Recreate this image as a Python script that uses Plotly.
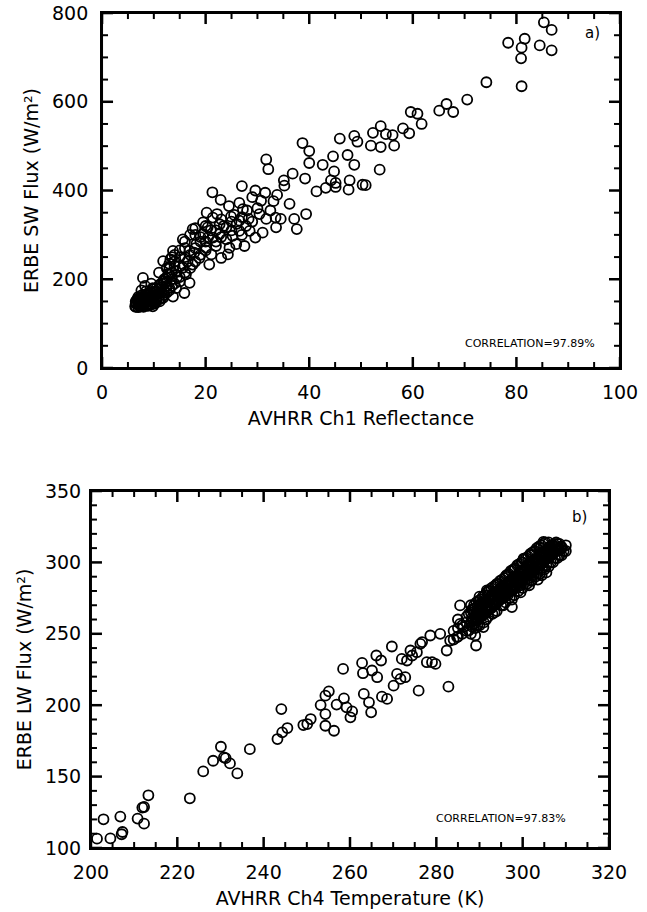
import plotly.graph_objects as go

# ---------------- Panel a) : SW flux vs Ch1 reflectance ----------------
sw_reflectance = [
    85.3, 86.8, 78.4, 81.6, 81.0, 84.5, 86.8, 80.9, 81.0, 74.2,
    70.5, 66.5, 65.1, 67.8, 59.6, 60.9, 61.7, 58.1, 59.3, 53.8,
    52.3, 54.8, 56.1, 56.4, 53.8, 51.9, 48.7, 49.3, 45.9, 53.6,
    40.0, 40.0, 42.6, 44.6, 47.4, 48.7, 44.8, 44.2, 45.1, 45.1,
    47.8, 47.6, 50.3, 50.9, 43.2, 41.4, 39.2, 39.4, 38.7, 31.7,
    32.1, 27.0, 29.6, 21.3, 22.9, 26.5, 30.7, 33.1, 35.1, 36.8,
    35.2, 36.2, 37.1, 37.6,
    22.2, 24.9, 27.2, 28.3, 30.4, 31.7, 33.5, 34.5, 33.6, 31.0,
    29.6, 27.5, 17.5, 15.6, 19.5, 20.4, 22.7, 24.3, 23.0, 20.7,
    13.7, 11.8, 7.9, 15.9, 13.7, 16.9, 19.5, 21.4, 24.0, 25.2,
    26.5, 25.9, 24.6, 22.0, 20.1, 18.2, 16.9, 18.8, 21.1, 17.5,
    15.6, 14.3, 16.2, 13.0, 12.4, 15.0, 11.1, 9.8, 13.0, 10.5,
    8.5, 7.3, 9.2, 11.1, 6.6, 7.9, 6.4, 9.8, 11.8, 14.3,
    26.5, 24.0, 28.5, 21.4, 22.7,
    7.0, 7.5, 8.0, 8.5, 9.0, 9.5, 10.0, 8.2, 7.8, 9.3,
    10.5, 11.0, 6.8, 7.2, 8.8, 10.2, 11.5, 12.0, 12.5, 9.0,
    10.0, 11.8, 13.5, 14.5, 12.8, 14.0, 16.5, 15.0, 17.8, 19.0,
    20.5, 18.0, 23.5, 21.0, 25.5, 28.0, 26.0, 27.8, 29.0, 30.0,
    32.5, 33.8, 31.5, 29.0, 24.5, 20.2, 16.0, 13.2, 11.0, 9.5,
    8.3, 7.6,
]
sw_flux = [
    779, 762, 733, 742, 722, 727, 716, 698, 635, 644,
    605, 595, 580, 577, 577, 573, 550, 540, 529, 545,
    530, 527, 525, 501, 498, 501, 523, 510, 517, 447,
    489, 462, 458, 477, 480, 458, 443, 423, 417, 408,
    423, 402, 413, 412, 406, 398, 427, 347, 507, 470,
    448, 410, 400, 396, 379, 372, 377, 376, 423, 438,
    411, 370, 336, 313,
    347, 341, 358, 336, 347, 336, 339, 336, 317, 305,
    294, 275, 313, 290, 328, 317, 302, 256, 248, 233,
    264, 241, 203, 169, 161, 192, 302, 294, 290, 298,
    309, 279, 271, 275, 271, 279, 264, 248, 256, 233,
    226, 218, 211, 226, 203, 195, 188, 180, 180, 165,
    173, 158, 154, 150, 146, 142, 139, 139, 158, 180,
    332, 317, 309, 339, 324,
    150, 145, 148, 152, 145, 150, 155, 160, 165, 162,
    158, 162, 155, 140, 140, 145, 170, 175, 185, 170,
    172, 195, 200, 205, 212, 230, 240, 250, 260, 285,
    295, 300, 320, 310, 345, 355, 325, 320, 330, 360,
    355, 390, 395, 385, 365, 350, 270, 245, 215, 190,
    185, 175,
]
# dense low-reflectance cluster: (reflectance, [fluxes at that reflectance])
sw_cluster_rows = [
    (6.5, [138, 145, 150]), (7.0, [137, 143, 155, 160]),
    (7.5, [140, 150, 158]), (8.0, [138, 144, 153, 162]),
    (8.5, [142, 148, 158, 166]), (9.0, [141, 150, 158]),
    (9.5, [143, 155, 162, 170]), (10.0, [146, 150, 162, 178]),
    (10.5, [150, 170, 180]), (11.0, [155, 168, 178]),
    (11.5, [158, 182, 190]), (12.0, [165, 190, 200]),
    (12.5, [170, 195, 225]), (13.0, [175, 210, 235]),
    (13.5, [185, 215, 250]), (14.0, [190, 240, 255]),
    (15.0, [205, 230, 265]), (16.0, [215, 250, 285]),
    (17.0, [225, 255, 300]), (18.0, [240, 270, 315]),
    (19.0, [255, 295]), (20.0, [265, 285, 320]),
    (22.0, [285, 310]), (23.0, [295, 335]),
    (25.0, [310, 330]), (27.0, [300, 340]),
]

# ---------------- Panel b) : LW flux vs Ch4 temperature ----------------
lw_temperature = [
    201.4, 202.9, 204.5, 206.8, 207.3, 207.1, 210.8, 212.3, 211.9, 212.3,
    213.3, 222.9, 226.0, 228.3, 230.1, 230.8, 231.2, 232.2, 233.9, 236.8,
    243.2, 244.1, 244.3, 245.5, 249.2, 250.1, 250.9, 253.2, 254.3, 255.1,
    254.3, 254.3, 256.3, 256.9, 258.6, 258.4, 259.2, 260.1, 260.5, 262.8,
    263.0, 263.2, 264.4, 265.1, 266.3, 267.2, 266.1, 269.7, 270.1, 270.9,
    271.7, 272.8, 264.9, 267.4, 268.6, 272.0, 273.2, 274.0, 274.4, 275.5,
    276.3, 276.7, 277.8, 279.0, 279.8, 275.9, 282.8, 278.6, 280.9, 282.4,
    283.2, 284.8, 285.5, 286.3, 287.5, 289.0, 289.2, 285.5, 287.5, 291.7,
    292.1, 304.4, 309.0, 304.8, 300.2, 302.1, 297.5, 290.9,
]
lw_flux = [
    106.5, 120.1, 106.7, 122.0, 111.2, 109.6, 120.6, 117.0, 128.3, 128.7,
    136.9, 134.8, 153.6, 161.1, 170.9, 163.4, 162.9, 159.2, 152.2, 169.2,
    176.3, 197.3, 181.0, 184.0, 186.1, 186.8, 190.3, 200.1, 206.7, 209.7,
    193.8, 185.6, 182.1, 200.4, 204.8, 225.4, 198.5, 191.5, 195.7, 229.6,
    222.4, 207.9, 202.0, 224.3, 219.6, 231.3, 234.8, 241.1, 213.7, 221.9,
    218.4, 219.6, 195.0, 206.0, 204.4, 232.4, 231.3, 238.3, 234.8, 237.1,
    243.0, 244.2, 230.1, 230.1, 228.9, 210.2, 213.0, 248.8, 250.0, 238.3,
    245.3, 247.7, 257.0, 254.7, 252.3, 248.8, 241.8, 269.9, 264.0, 280.4,
    276.9, 291.0, 309.7, 314.4, 302.7, 287.5, 268.7, 254.7,
]
# dense warm band: (temperature, [fluxes at that temperature])
lw_band_rows = [
    (284.0, [246, 252]), (285.0, [248, 254, 260]), (286.0, [250, 256]),
    (287.0, [252, 258, 262]),
    (288.0, [250, 258, 265, 270]), (288.25, [255, 261, 267]),
    (288.5, [260]), (288.75, [257, 264, 270]),
    (289.0, [254, 262, 268]), (289.25, [259, 265, 272]),
    (289.5, [264]), (289.75, [260, 266, 273]),
    (290.0, [256, 263, 270, 276]), (290.25, [262, 268, 274]),
    (290.5, [267]), (290.75, [263, 270, 276]),
    (291.0, [258, 265, 272]), (291.25, [264, 271, 277]),
    (291.5, [268]), (291.75, [266, 272, 279]),
    (292.0, [262, 268, 274, 280]), (292.25, [267, 274, 280]),
    (292.5, [270]), (292.75, [268, 275, 282]),
    (293.0, [264, 271, 277]), (293.25, [270, 276, 283]),
    (293.5, [274]), (293.75, [271, 278, 284]),
    (294.0, [266, 273, 279, 285]), (294.25, [273, 279, 285]),
    (294.5, [277]), (294.75, [274, 281, 287]),
    (295.0, [270, 276, 282]), (295.25, [275, 282, 288]),
    (295.5, [279]), (295.75, [277, 283, 289]),
    (296.0, [272, 278, 284, 290]), (296.25, [278, 285, 291]),
    (296.5, [281]), (296.75, [279, 286, 292]),
    (297.0, [275, 281, 287]), (297.25, [281, 287, 294]),
    (297.5, [284]), (297.75, [282, 289, 295]),
    (298.0, [277, 283, 289, 295]), (298.25, [283, 290, 296]),
    (298.5, [287]), (298.75, [285, 291, 298]),
    (299.0, [280, 286, 292]), (299.25, [286, 293, 299]),
    (299.5, [289]), (299.75, [287, 294, 300]),
    (300.0, [282, 288, 294, 300]), (300.25, [289, 295, 302]),
    (300.5, [291]), (300.75, [290, 297, 303]),
    (301.0, [285, 291, 297]), (301.25, [291, 298, 304]),
    (301.5, [294]), (301.75, [293, 299, 306]),
    (302.0, [287, 293, 299, 305]), (302.25, [294, 301, 307]),
    (302.5, [296]), (302.75, [295, 302, 308]),
    (303.0, [290, 296, 302]), (303.25, [297, 303, 310]),
    (303.5, [299]), (303.75, [298, 305, 311]),
    (304.0, [292, 298, 304, 310]), (304.25, [299, 306, 312]),
    (304.5, [300]), (304.75, [301, 307, 313]),
    (305.0, [295, 301, 307]), (305.25, [302, 308, 314]),
    (305.5, [304]), (305.75, [303, 310]),
    (306.0, [297, 303, 309, 314]), (306.25, [305, 311]),
    (306.5, [305]), (306.75, [306, 312]),
    (307.0, [300, 306, 312]), (307.25, [307, 313]),
    (307.5, [309]), (307.75, [309, 314]),
    (308.0, [303, 308, 313]), (308.25, [310]),
    (308.5, [309]), (308.75, [311]),
    (309.0, [305, 311]), (310.0, [308, 312]),
    (288.5, [259, 267]), (289.5, [261, 269, 256]), (290.5, [263, 272]),
    (291.5, [266, 274, 260]), (292.5, [268, 276]), (293.5, [270, 279, 265]),
    (294.5, [273, 281]), (295.5, [275, 283, 270]), (296.5, [277, 286]),
    (297.5, [280, 288, 274]), (298.5, [282, 290]), (299.5, [284, 292, 279]),
    (300.5, [286, 295]), (301.5, [289, 297, 284]), (302.5, [291, 299]),
    (303.5, [293, 302, 288]), (304.5, [296, 304]), (305.5, [298, 306, 293]),
    (306.5, [300, 308]), (307.5, [303, 311]), (308.5, [305, 313]),
    (309.5, [308]),
]

sw_x_ticks = [0, 20, 40, 60, 80, 100]
sw_y_ticks = [0, 200, 400, 600, 800]
lw_x_ticks = [200, 220, 240, 260, 280, 300, 320]
lw_y_ticks = [100, 150, 200, 250, 300, 350]
sw_x_minor, sw_y_minor, lw_x_minor, lw_y_minor = 5, 50, 5, 10

# flatten the row tables into point lists
sw_x_all = list(sw_reflectance)
sw_y_all = list(sw_flux)
for xv, ys in sw_cluster_rows:
    for yv in ys:
        sw_x_all.append(xv)
        sw_y_all.append(yv)
lw_x_all = list(lw_temperature)
lw_y_all = list(lw_flux)
for xv, ys in lw_band_rows:
    for yv in ys:
        lw_x_all.append(xv)
        lw_y_all.append(yv)

FONT = "DejaVu Sans"
W, H = 647, 912
SW_DOM_X, SW_DOM_Y = [0.1577, 0.9583], [0.5965, 0.9857]
LW_DOM_X, LW_DOM_Y = [0.1406, 0.9413], [0.0702, 0.4616]

marker_style = dict(symbol="circle-open", size=10, color="black",
                    line=dict(width=1.8, color="black"))


def box_tick_path(xt, yt, xstep, ystep, dom_x, dom_y, major):
    """Inside tick marks on all four sides (IDL box axis) as one path."""
    xs, ys = [], []
    x_per_px = (xt[-1] - xt[0]) / ((dom_x[1] - dom_x[0]) * W)
    y_per_px = (yt[-1] - yt[0]) / ((dom_y[1] - dom_y[0]) * H)

    def is_major(v, lst):
        return any(abs(v - m) < 1e-9 for m in lst)

    v = xt[0]
    while v <= xt[-1] + 1e-9:
        if is_major(v, xt) == major:
            ln = (11 if major else 6) * y_per_px
            xs += [v, v, None, v, v, None]
            ys += [yt[0], yt[0] + ln, None, yt[-1], yt[-1] - ln, None]
        v += xstep
    v = yt[0]
    while v <= yt[-1] + 1e-9:
        if is_major(v, yt) == major:
            ln = (11 if major else 6) * x_per_px
            xs += [xt[0], xt[0] + ln, None, xt[-1], xt[-1] - ln, None]
            ys += [v, v, None, v, v, None]
        v += ystep
    return xs, ys


fig = go.Figure()
fig.add_trace(go.Scatter(x=sw_x_all, y=sw_y_all, mode="markers",
                         marker=marker_style, xaxis="x", yaxis="y",
                         showlegend=False))
fig.add_trace(go.Scatter(x=lw_x_all, y=lw_y_all, mode="markers",
                         marker=marker_style, xaxis="x2", yaxis="y2",
                         showlegend=False))
for (xa, ya, xt, yt, xs_, ys_, dx, dy) in (
        ("x", "y", sw_x_ticks, sw_y_ticks, sw_x_minor, sw_y_minor,
         SW_DOM_X, SW_DOM_Y),
        ("x2", "y2", lw_x_ticks, lw_y_ticks, lw_x_minor, lw_y_minor,
         LW_DOM_X, LW_DOM_Y)):
    for major, width in ((True, 2.5), (False, 2.0)):
        tx, ty = box_tick_path(xt, yt, xs_, ys_, dx, dy, major)
        fig.add_trace(go.Scatter(x=tx, y=ty, mode="lines", xaxis=xa,
                                 yaxis=ya, line=dict(color="black",
                                                     width=width,
                                                     simplify=False),
                                 hoverinfo="skip", showlegend=False,
                                 connectgaps=False))


def axis(ticks, domain, anchor, title, standoff, lstand):
    return dict(
        range=[ticks[0], ticks[-1]], tickmode="array", tickvals=ticks,
        domain=domain, anchor=anchor, showline=True, linecolor="black",
        linewidth=2, mirror=True, ticks="", showgrid=False, zeroline=False,
        automargin=False, ticklabelstandoff=lstand,
        tickfont=dict(family=FONT, size=19, color="black"),
        title=dict(text=title, font=dict(family=FONT, size=19, color="black"),
                   standoff=standoff),
    )


frame = dict(type="rect", x0=0, x1=1, y0=0, y1=1, layer="above",
             line=dict(color="black", width=2), fillcolor="rgba(0,0,0,0)")

fig.update_layout(
    width=W, height=H,
    margin=dict(l=0, r=0, t=0, b=0, autoexpand=False),
    paper_bgcolor="white", plot_bgcolor="white",
    xaxis=axis(sw_x_ticks, SW_DOM_X, "y", "AVHRR Ch1 Reflectance", 10, 6),
    yaxis=axis(sw_y_ticks, SW_DOM_Y, "x", "ERBE SW Flux (W/m²)", 8, 8),
    xaxis2=axis(lw_x_ticks, LW_DOM_X, "y2", "AVHRR Ch4 Temperature (K)",
                10, 6),
    yaxis2=axis(lw_y_ticks, LW_DOM_Y, "x2", "ERBE LW Flux (W/m²)", 8, 4),
    shapes=[dict(frame, xref="x domain", yref="y domain"),
            dict(frame, xref="x2 domain", yref="y2 domain")],
    annotations=[
        dict(text="a)", x=0.965, y=0.975, xref="x domain", yref="y domain",
             showarrow=False, font=dict(family=FONT, size=15, color="black")),
        dict(text="b)", x=0.961, y=0.958, xref="x2 domain", yref="y2 domain",
             showarrow=False, font=dict(family=FONT, size=15, color="black")),
        dict(text="CORRELATION=97.89%", x=0.955, y=0.045, xref="x domain",
             yref="y domain", xanchor="right", showarrow=False,
             font=dict(family=FONT, size=11, color="black")),
        dict(text="CORRELATION=97.83%", x=0.92, y=0.06, xref="x2 domain",
             yref="y2 domain", xanchor="right", showarrow=False,
             font=dict(family=FONT, size=11, color="black")),
    ],
)

fig.write_html("out.html", config={"displayModeBar": False},
               post_script="document.body.style.margin='0';")
